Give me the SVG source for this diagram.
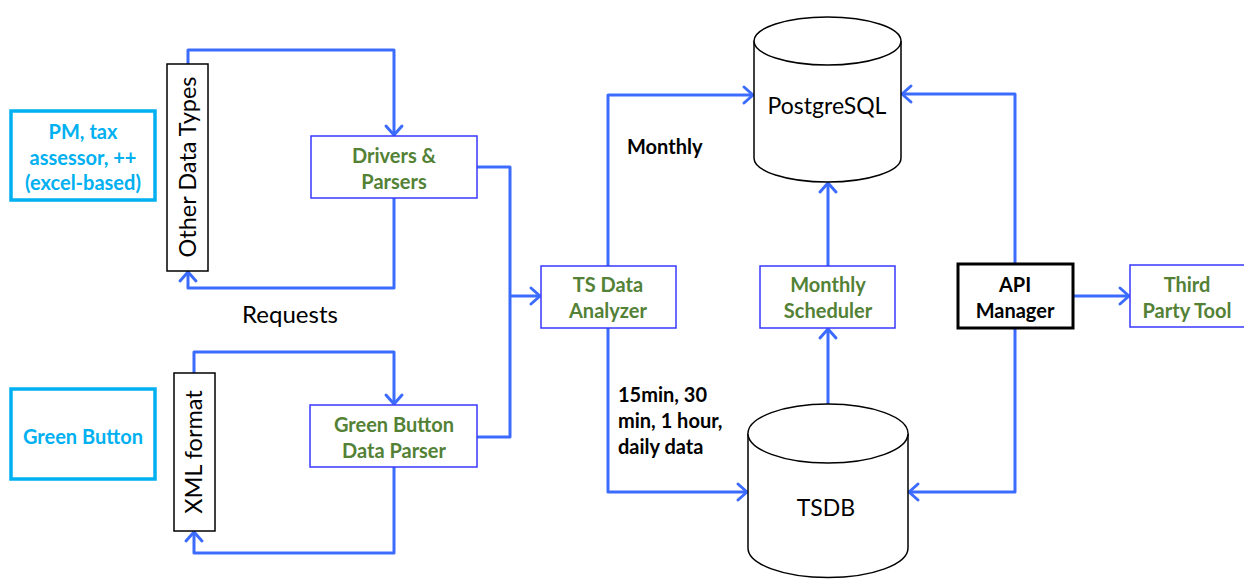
<svg xmlns="http://www.w3.org/2000/svg" width="1244" height="579" viewBox="0 0 1244 579">
<style>
.conn{fill:none;stroke:#3C6CFF;stroke-width:3;stroke-linejoin:round}
.src{fill:#fff;stroke:#00B0F0;stroke-width:3.5}
.srct{font-family:Lato,"Liberation Sans",sans-serif;font-weight:bold;font-size:20px;fill:#00B0F0;text-anchor:middle}
.proc{fill:#fff;stroke:#3838FF;stroke-width:1.5}
.proct{font-family:Lato,"Liberation Sans",sans-serif;font-weight:bold;font-size:20px;fill:#538135;text-anchor:middle}
.vbox{fill:#fff;stroke:#000;stroke-width:1.5}
.vt{font-family:Lato,"Liberation Sans",sans-serif;font-size:23.5px;fill:#000;text-anchor:middle}
.db{fill:#fff;stroke:#000;stroke-width:1.5}
.dbt{font-family:Lato,"Liberation Sans",sans-serif;font-size:23px;fill:#000;text-anchor:middle}
.lbl{font-family:Lato,"Liberation Sans",sans-serif;font-weight:bold;font-size:20px;fill:#000}
</style>
<defs>
<marker id="arr" markerUnits="userSpaceOnUse" markerWidth="14" markerHeight="20" refX="11" refY="10" orient="auto" overflow="visible">
<path d="M2,2 L11,10 L2,18" fill="none" stroke="#3C6CFF" stroke-width="3" stroke-linecap="round" stroke-linejoin="round"/>
</marker>
</defs>
<rect width="1244" height="579" fill="#fff"/>
<g id="connectors">
<path class="conn" d="M188,64 V50 H394 V135" marker-end="url(#arr)"/>
<path class="conn" d="M394,198 V288 H188 V272" marker-end="url(#arr)"/>
<path class="conn" d="M194,373 V352 H394 V404" marker-end="url(#arr)"/>
<path class="conn" d="M394,467 V553 H194 V532" marker-end="url(#arr)"/>
<path class="conn" d="M477,167 H510 V437 H477"/>
<path class="conn" d="M510,296 H540" marker-end="url(#arr)"/>
<path class="conn" d="M608,266 V95 H753" marker-end="url(#arr)"/>
<path class="conn" d="M608,328 V492 H747" marker-end="url(#arr)"/>
<path class="conn" d="M828,404 V329" marker-end="url(#arr)"/>
<path class="conn" d="M828,266 V183" marker-end="url(#arr)"/>
<path class="conn" d="M1015,264 V94 H902" marker-end="url(#arr)"/>
<path class="conn" d="M1015,328 V492 H909" marker-end="url(#arr)"/>
<path class="conn" d="M1073,296 H1129" marker-end="url(#arr)"/>
</g>
<g id="pm">
<rect class="src" x="11" y="111" width="144" height="89"/>
<text class="srct" x="83" y="139">PM, tax</text>
<text class="srct" x="83" y="165">assessor, ++</text>
<text class="srct" x="83" y="190">(excel-based)</text>
</g>
<g id="greenbutton">
<rect class="src" x="11" y="389" width="144" height="90"/>
<text class="srct" x="83" y="444">Green Button</text>
</g>
<g id="otherdatatypes">
<rect class="vbox" x="167" y="64" width="41" height="207"/>
<text class="vt" transform="translate(196,167) rotate(-90)">Other Data Types</text>
</g>
<g id="xmlformat">
<rect class="vbox" x="174" y="373" width="41" height="158"/>
<text class="vt" transform="translate(202,452) rotate(-90)">XML format</text>
</g>
<g id="drivers">
<rect class="proc" x="311" y="136" width="166" height="62"/>
<text class="proct" x="394" y="163">Drivers &amp;</text>
<text class="proct" x="394" y="189">Parsers</text>
</g>
<g id="gbparser">
<rect class="proc" x="310" y="405" width="167" height="62"/>
<text class="proct" x="394" y="432">Green Button</text>
<text class="proct" x="394" y="458">Data Parser</text>
</g>
<g id="requests">
<text x="290" y="323" style="font-family:Lato,'Liberation Sans',sans-serif;font-size:24px;fill:#000;text-anchor:middle">Requests</text>
</g>
<g id="tsanalyzer">
<rect class="proc" x="541" y="266" width="135" height="62"/>
<text class="proct" x="608" y="292">TS Data</text>
<text class="proct" x="608" y="318">Analyzer</text>
</g>
<g id="scheduler">
<rect class="proc" x="760" y="266" width="135" height="62"/>
<text class="proct" x="828" y="292">Monthly</text>
<text class="proct" x="828" y="318">Scheduler</text>
</g>
<g id="apimanager">
<rect x="958" y="264" width="115" height="64" fill="#fff" stroke="#000" stroke-width="3"/>
<text class="proct" x="1015" y="292" style="fill:#000">API</text>
<text class="proct" x="1015" y="318" style="fill:#000">Manager</text>
</g>
<g id="thirdparty">
<rect class="proc" x="1130" y="265" width="120" height="62"/>
<text class="proct" x="1187" y="292">Third</text>
<text class="proct" x="1187" y="318">Party Tool</text>
</g>
<g id="postgresql">
<path class="db" d="M754,41 A73.5,24 0 0 1 901,41 V158 A73.5,24 0 0 1 754,158 Z"/>
<path class="db" d="M754,41 A73.5,24 0 0 0 901,41" fill="none"/>
<text class="dbt" x="827" y="114">PostgreSQL</text>
</g>
<g id="tsdb">
<path class="db" d="M748,433.5 A80,29.5 0 0 1 908,433.5 V548 A80,29.5 0 0 1 748,548 Z"/>
<path class="db" d="M748,433.5 A80,29.5 0 0 0 908,433.5" fill="none"/>
<text class="dbt" x="826" y="516">TSDB</text>
</g>
<g id="labels">
<text class="lbl" x="627" y="154">Monthly</text>
<text class="lbl" x="618" y="402">15min, 30</text>
<text class="lbl" x="618" y="428">min, 1 hour,</text>
<text class="lbl" x="618" y="454">daily data</text>
</g>
</svg>
